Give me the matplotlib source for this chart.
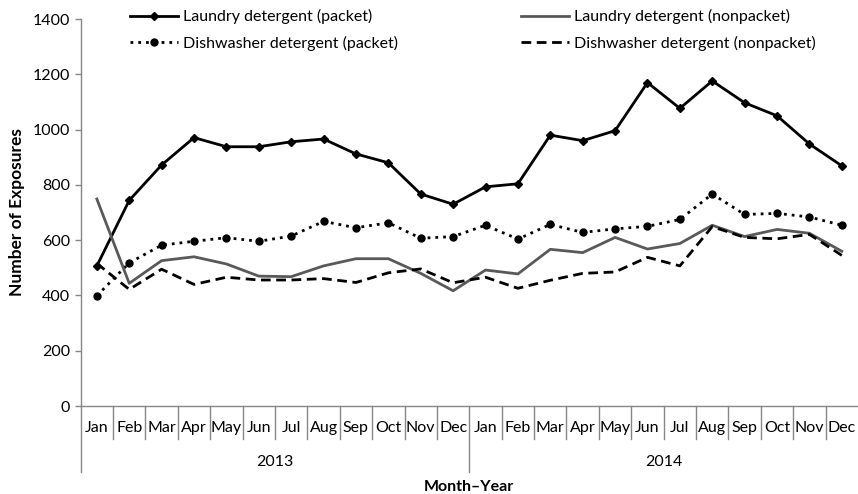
import matplotlib
matplotlib.use("Agg")
import matplotlib.pyplot as plt
import matplotlib.transforms as mtransforms

plt.rcParams['font.family'] = ['Lato', 'DejaVu Sans']

months = ["Jan", "Feb", "Mar", "Apr", "May", "Jun", "Jul", "Aug", "Sep", "Oct", "Nov", "Dec"]
years = ["2013", "2014"]

laundry_packet = [507, 744, 872, 971, 938, 938, 956, 966, 912, 880, 767, 730,
                  793, 804, 980, 960, 996, 1170, 1077, 1176, 1097, 1050, 948, 869]
dish_packet = [399, 518, 582, 596, 609, 596, 615, 668, 645, 663, 607, 613,
               654, 604, 657, 628, 641, 650, 675, 767, 693, 697, 684, 654]
laundry_nonpacket = [749, 444, 526, 540, 514, 470, 468, 507, 533, 533, 480, 417,
                     492, 478, 567, 555, 610, 568, 588, 654, 613, 639, 625, 560]
dish_nonpacket = [516, 422, 495, 440, 466, 456, 456, 461, 447, 482, 496, 446,
                  466, 426, 455, 480, 485, 538, 507, 649, 610, 605, 621, 545]

labels = ["Laundry detergent (packet)", "Dishwasher detergent (packet)",
          "Laundry detergent (nonpacket)", "Dishwasher detergent (nonpacket)"]

FS = 11.5

fig = plt.figure(figsize=(8.58, 4.94), dpi=100)
ax = fig.add_axes([0.094, 0.178, 0.906, 0.7835])

x = list(range(len(months) * len(years)))
h1, = ax.plot(x, laundry_packet, color='black', lw=2, marker='D', ms=4.5, label=labels[0])
h2, = ax.plot(x, dish_packet, color='black', lw=2, ls=(0, (1, 1.8)), marker='o', ms=5, label=labels[1])
h3, = ax.plot(x, laundry_nonpacket, color='#595959', lw=2, label=labels[2])
h4, = ax.plot(x, dish_nonpacket, color='black', lw=2, ls=(0, (3.5, 2)), label=labels[3])

ax.set_xlim(-0.5, len(x) - 0.5)
ax.set_ylim(0, 1400)
ax.set_yticks(range(0, 1401, 200))
ax.tick_params(axis='y', labelsize=FS, colors='#868686', labelcolor='black', length=4, width=1)
ax.set_xticks([])
for s in ['top', 'right']:
    ax.spines[s].set_visible(False)
for s in ['left', 'bottom']:
    ax.spines[s].set_color('#868686')
    ax.spines[s].set_linewidth(1)

trans = mtransforms.blended_transform_factory(ax.transData, ax.transAxes)
n = len(x)
for i in range(n):
    ax.text(i, -0.057, months[i % 12], transform=trans, ha='center', va='center',
            fontsize=FS, clip_on=False)
for b in range(n):
    bx = b - 0.5
    ymin = -0.17 if b % 12 == 0 else -0.085
    ax.plot([bx, bx], [0, ymin], transform=trans, color='#868686', lw=1, clip_on=False)
for j, yr in enumerate(years):
    ax.text(j * 12 + 5.5, -0.144, yr, transform=trans, ha='center', va='center',
            fontsize=FS, clip_on=False)

ax.text(11.5, -0.2085, "Month\u2013Year", transform=trans, ha='center', va='center',
        fontsize=FS, fontweight='bold', clip_on=False)
ax.set_ylabel("Number of Exposures", fontsize=12.5, fontweight='bold', labelpad=6)

fig.legend(handles=[h1, h2, h3, h4], ncol=2, loc='upper left', bbox_to_anchor=(0.135, 1.01),
           frameon=False, fontsize=FS, handlelength=3.0, columnspacing=7.7,
           labelspacing=0.72, handletextpad=0.3)

fig.savefig("out.png", dpi=100)
